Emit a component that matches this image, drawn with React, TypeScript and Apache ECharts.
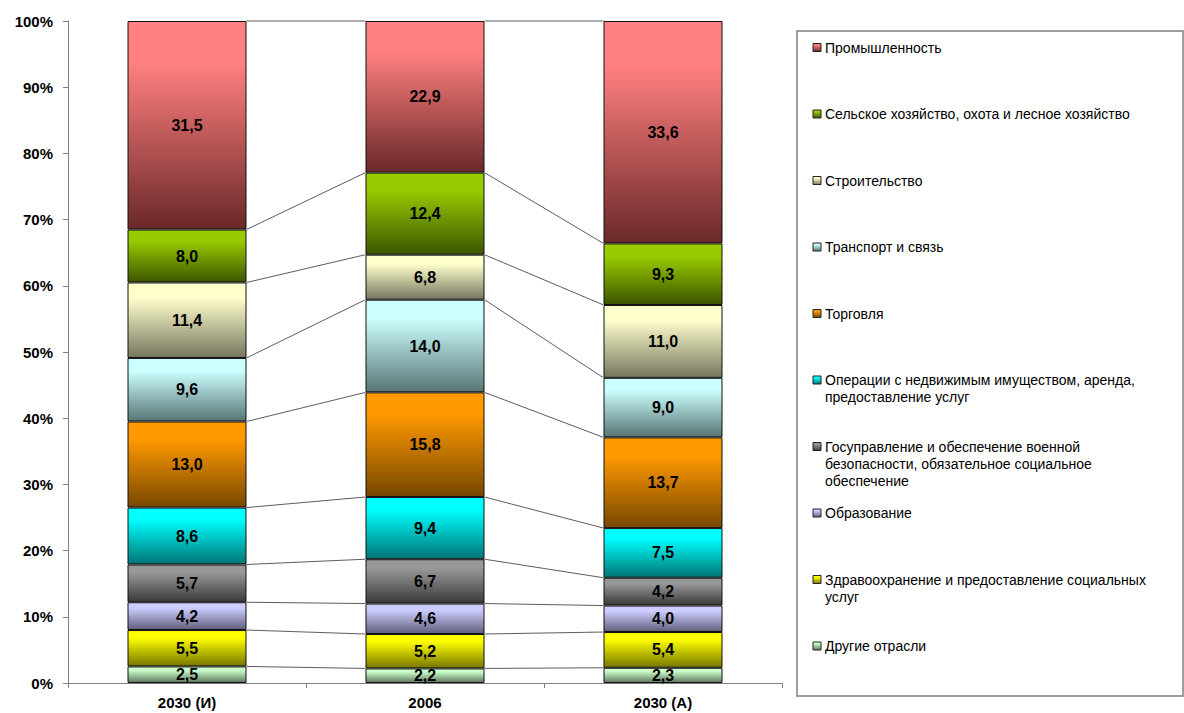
import React, { useEffect, useRef } from "react";
import * as echarts from "echarts";

const categories = ["2030 (И)", "2006", "2030 (А)"];

// bottom -> top stacking order
const sectorNames = [
  "Другие отрасли",
  "Здравоохранение и предоставление социальных\nуслуг",
  "Образование",
  "Госуправление и обеспечение военной\nбезопасности, обязательное социальное\nобеспечение",
  "Операции с недвижимым имуществом, аренда,\nпредоставление услуг",
  "Торговля",
  "Транспорт и связь",
  "Строительство",
  "Сельское хозяйство, охота и лесное хозяйство",
  "Промышленность",
];

const otherValues = [2.5, 2.2, 2.3];
const healthValues = [5.5, 5.2, 5.4];
const educationValues = [4.2, 4.6, 4.0];
const governmentValues = [5.7, 6.7, 4.2];
const realEstateValues = [8.6, 9.4, 7.5];
const tradeValues = [13.0, 15.8, 13.7];
const transportValues = [9.6, 14.0, 9.0];
const constructionValues = [11.4, 6.8, 11.0];
const agricultureValues = [8.0, 12.4, 9.3];
const industryValues = [31.5, 22.9, 33.6];

const seriesValues = [
  otherValues,
  healthValues,
  educationValues,
  governmentValues,
  realEstateValues,
  tradeValues,
  transportValues,
  constructionValues,
  agricultureValues,
  industryValues,
];

const topColors = ["#CCFFCC", "#FFFF00", "#CCCCFF", "#989898", "#00FFFF", "#FF9900", "#CCFFFF", "#FFFFCC", "#99CC00", "#FF8080"];
const bottomColors = ["#5F785F", "#777700", "#5F5F7A", "#3A3A3A", "#007575", "#774700", "#587575", "#777760", "#3D5500", "#6A2828"];

const FONT = "'Liberation Sans', Arial, sans-serif";

function grad(i: number) {
  return new echarts.graphic.LinearGradient(0, 0, 0, 1, [
    { offset: 0, color: topColors[i] },
    { offset: 0.2, color: topColors[i] },
    { offset: 1, color: bottomColors[i] },
  ]);
}

export default function App() {
  const ref = useRef<HTMLDivElement>(null);

  useEffect(() => {
    if (!ref.current) return;
    const chart = echarts.init(ref.current, undefined, { renderer: "svg" });

    // cumulative boundaries for series lines
    const cum: number[][] = [];
    const running = categories.map(() => 0);
    seriesValues.forEach((vals) => {
      vals.forEach((v, j) => (running[j] = Math.round((running[j] + v) * 100) / 100));
      cum.push([...running]);
    });
    const lineData: number[][] = [];
    cum.forEach((c) => {
      for (let j = 0; j < categories.length - 1; j++) {
        lineData.push([j, c[j], j + 1, c[j + 1]]);
      }
    });

    const barSeries = seriesValues.map((vals, i) => ({
      type: "bar",
      name: sectorNames[i],
      stack: "total",
      barWidth: "50%",
      data: vals,
      itemStyle: { color: grad(i), borderColor: "#111", borderWidth: 1 },
      label: {
        show: true,
        position: "inside",
        color: "#000",
        fontFamily: FONT,
        fontWeight: "bold",
        fontSize: 16,
        formatter: (p: any) => Number(p.value).toFixed(1).replace(".", ","),
      },
    }));

    const legendItems: any[] = [];
    const order = sectorNames.map((_, i) => sectorNames.length - 1 - i);
    order.forEach((si, k) => {
      const cy = 47.5 + k * 66.5;
      legendItems.push({
        type: "rect",
        shape: { x: 813, y: cy - 4, width: 8, height: 8 },
        style: { fill: grad(si), stroke: "#222", lineWidth: 1 },
      });
      legendItems.push({
        type: "text",
        x: 825,
        y: cy - 8.5,
        style: {
          text: sectorNames[si],
          font: `14px ${FONT}`,
          fill: "#000",
          lineHeight: 17,
          verticalAlign: "top",
          align: "left",
        },
      });
    });

    chart.setOption({
      animation: false,
      grid: { left: 68, right: 402, top: 21, bottom: 30, containLabel: false },
      xAxis: {
        type: "category",
        data: categories,
        axisLine: { lineStyle: { color: "#808080", width: 1 } },
        axisTick: { show: true, length: 5, lineStyle: { color: "#808080" } },
        axisLabel: { color: "#000", fontFamily: FONT, fontWeight: "bold", fontSize: 15, margin: 12 },
      },
      yAxis: {
        type: "value",
        min: 0,
        max: 100,
        interval: 10,
        axisLine: { show: true, lineStyle: { color: "#808080", width: 1 } },
        axisTick: { show: true, length: 5, lineStyle: { color: "#808080" } },
        splitLine: { show: false },
        axisLabel: { color: "#000", fontFamily: FONT, fontWeight: "bold", fontSize: 15, margin: 15, formatter: "{value}%" },
      },
      series: [
        ...barSeries,
        {
          type: "custom",
          name: "seriesLines",
          data: lineData,
          encode: { x: [0, 2], y: [1, 3] },
          silent: true,
          z: 1,
          renderItem: (_params: any, api: any) => {
            const p1 = api.coord([api.value(0), api.value(1)]);
            const p2 = api.coord([api.value(2), api.value(3)]);
            const half = api.size([1, 0])[0] * 0.25;
            return {
              type: "line",
              shape: { x1: p1[0] + half, y1: p1[1], x2: p2[0] - half, y2: p2[1] },
              style: { stroke: "#333", lineWidth: 0.8 },
            };
          },
        },
      ],
      graphic: [
        {
          type: "rect",
          shape: { x: 797, y: 31, width: 386, height: 665 },
          style: { fill: "#fff", stroke: "#7f7f7f", lineWidth: 1.5 },
        },
        ...legendItems,
      ],
    });

    return () => chart.dispose();
  }, []);

  return (
    <div
      ref={ref}
      style={{ position: "absolute", left: 0, top: 0, width: 1184, height: 713, background: "#fff" }}
    />
  );
}
